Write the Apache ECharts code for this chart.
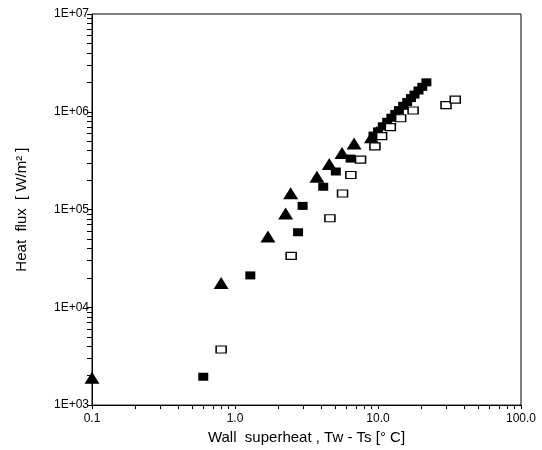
<!DOCTYPE html>
<html>
<head>
<meta charset="utf-8">
<script src="https://cdn.jsdelivr.net/npm/echarts@6/dist/echarts.min.js"></script>
<style>
  html, body { margin: 0; padding: 0; background: #fff; }
  #chart { width: 542px; height: 450px; }
</style>
</head>
<body>
<div id="chart"></div>
<script>
// wall superheat [°C] / heat flux [W/m2]
var triX = [0.1, 0.8, 1.7, 2.26, 2.45, 3.74, 4.56, 5.6, 6.8, 9.0, 9.8];
var triY = [1900, 17700, 53000, 91000, 147000, 216000, 292000, 378000, 475000, 550000, 620000];

var fsqX = [0.6, 1.28, 2.76, 2.97, 4.14, 5.07, 6.43, 9.3, 10.0, 10.8, 11.6, 12.4, 13.2, 14.0, 15.0, 16.0, 17.0, 18.0, 19.2, 20.4, 21.8];
var fsqY = [1950, 21200, 58600, 109000, 171000, 245000, 332000, 570000, 630000, 710000, 790000, 870000, 950000, 1040000, 1150000, 1260000, 1380000, 1500000, 1650000, 1800000, 2000000];

var osqX = [0.8, 2.47, 4.61, 5.65, 6.46, 7.55, 9.52, 10.6, 12.2, 14.4, 17.6, 29.9, 34.7];
var osqY = [3700, 33600, 81400, 146000, 226000, 324000, 443000, 564000, 697000, 860000, 1030000, 1170000, 1330000];

var xDecades = [0.1, 1, 10, 100];
var yDecades = [1e3, 1e4, 1e5, 1e6, 1e7];
var xTicks = [0.1, 0.2, 0.3, 0.4, 0.5, 0.6, 0.7, 0.8, 0.9, 1, 2, 3, 4, 5, 6, 7, 8, 9, 10, 20, 30, 40, 50, 60, 70, 80, 90, 100];
var yTicks = [];
yDecades.forEach(function (d, i) {
  if (i === yDecades.length - 1) { yTicks.push(d); return; }
  for (var k = 1; k <= 9; k++) yTicks.push(d * k);
});

function pairs(xs, ys) {
  return xs.map(function (x, i) { return [x, ys[i]]; });
}

var font = 'Liberation Sans, Arial, sans-serif';
var chart = echarts.init(document.getElementById('chart'));
chart.setOption({
  backgroundColor: '#fff',
  animation: false,
  grid: {
    left: 92, right: 21, top: 14, bottom: 43,
    show: true, borderColor: '#000', borderWidth: 1
  },
  xAxis: {
    type: 'log', min: 0.1, max: 100, logBase: 10,
    name: 'Wall  superheat , Tw - Ts [\u00b0 C]',
    nameLocation: 'middle', nameGap: 24,
    nameTextStyle: { fontFamily: font, fontSize: 15, color: '#000' },
    axisLine: { lineStyle: { color: '#000', width: 1 } },
    axisTick: { customValues: xTicks, length: 4, lineStyle: { color: '#000' } },
    axisLabel: {
      customValues: xDecades, margin: 8,
      fontFamily: font, fontSize: 12, color: '#000',
      formatter: function (v) { return Number(v).toFixed(1); }
    },
    splitLine: { show: false }
  },
  yAxis: {
    type: 'log', min: 1e3, max: 1e7, logBase: 10,
    name: 'Heat  flux  [ W/m\u00b2 ]',
    nameLocation: 'middle', nameGap: 63,
    nameTextStyle: { fontFamily: font, fontSize: 15, color: '#000' },
    axisLine: { lineStyle: { color: '#000', width: 1 } },
    axisTick: { customValues: yTicks, length: 5, lineStyle: { color: '#000' } },
    axisLabel: {
      customValues: yDecades, margin: 3,
      fontFamily: font, fontSize: 12, color: '#000',
      formatter: function (v) { return '1E+0' + Math.round(Math.log10(v)); }
    },
    splitLine: { show: false }
  },
  series: [
    {
      type: 'scatter', data: pairs(triX, triY),
      symbol: 'triangle', symbolSize: [15, 12],
      itemStyle: { color: '#000', opacity: 1 }
    },
    {
      type: 'scatter', data: pairs(fsqX, fsqY),
      symbol: 'rect', symbolSize: [10, 8],
      itemStyle: { color: '#000', opacity: 1 }
    },
    {
      type: 'scatter', data: pairs(osqX, osqY),
      symbol: 'rect', symbolSize: [10, 7],
      itemStyle: { color: '#fff', borderColor: '#000', borderWidth: 1.3, opacity: 1 }
    }
  ]
});
</script>
</body>
</html>
